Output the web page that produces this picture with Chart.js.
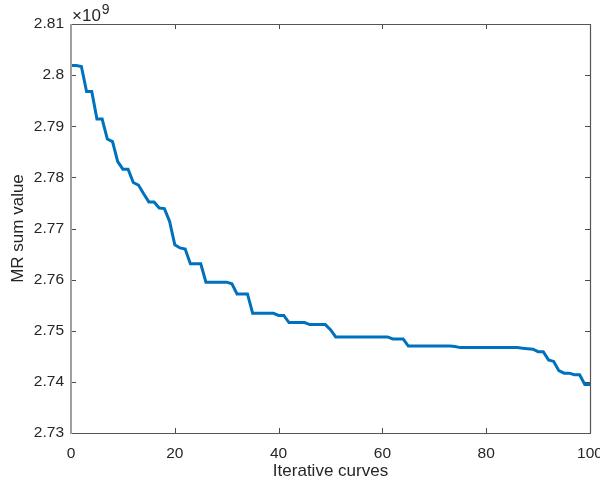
<!DOCTYPE html>
<html>
<head>
<meta charset="utf-8">
<script src="https://cdn.jsdelivr.net/npm/chart.js@4/dist/chart.umd.min.js"></script>
<style>
  html, body { margin: 0; padding: 0; background: #fff; }
  #wrap { width: 600px; height: 487px; }
</style>
</head>
<body>
<div id="wrap"><canvas id="mrChart"></canvas></div>
<script>
// iteration index and MR sum value (x 10^9)
const iterations = [];
for (let i = 0; i <= 100; i++) iterations.push(i);
const mrSum = [
    2.8019, 2.8019, 2.8017, 2.7968, 2.7968, 2.7914, 2.7914, 2.7875, 2.7870, 2.7831,
    2.7816, 2.7816, 2.7790, 2.7785, 2.7768, 2.7752, 2.7752, 2.7740, 2.7739, 2.7714,
    2.7668, 2.7662, 2.7660, 2.7631, 2.7631, 2.7631, 2.7595, 2.7595, 2.7595, 2.7595,
    2.7595, 2.7592, 2.7572, 2.7572, 2.7572, 2.7534, 2.7534, 2.7534, 2.7534, 2.7534,
    2.7530, 2.7530, 2.7516, 2.7516, 2.7516, 2.7516, 2.7512, 2.7512, 2.7512, 2.7512,
    2.7502, 2.7488, 2.7488, 2.7488, 2.7488, 2.7488, 2.7488, 2.7488, 2.7488, 2.7488,
    2.7488, 2.7488, 2.7484, 2.7484, 2.7484, 2.7470, 2.7470, 2.7470, 2.7470, 2.7470,
    2.7470, 2.7470, 2.7470, 2.7470, 2.7469, 2.7467, 2.7467, 2.7467, 2.7467, 2.7467,
    2.7467, 2.7467, 2.7467, 2.7467, 2.7467, 2.7467, 2.7467, 2.7466, 2.7465, 2.7464,
    2.7459, 2.7459, 2.7443, 2.7440, 2.7422, 2.7417, 2.7417, 2.7414, 2.7414, 2.7395,
    2.7395
];
const xTicks = [0, 20, 40, 60, 80, 100];
const yTicks = [2.73, 2.74, 2.75, 2.76, 2.77, 2.78, 2.79, 2.8, 2.81];
const exponentBase = '\u00d710';
const exponentPower = '9';

const textColor = '#262626';
const fontFamily = '"Liberation Sans", Arial, Helvetica, sans-serif';

/// Draws the MATLAB style box, inward ticks and the exponent label
const boxPlugin = {
    id: 'matlabBox',
    afterDraw(chart) {
        const ctx = chart.ctx;
        const a = chart.chartArea;
        const xs = chart.scales.x, ys = chart.scales.y;
        const len = 5;
        ctx.save();
        ctx.lineWidth = 1;
        ctx.strokeStyle = '#4a4a4a';
        ctx.beginPath();
        xTicks.forEach(v => {
            const px = Math.round(xs.getPixelForValue(v)) + 0.5;
            ctx.moveTo(px, a.bottom); ctx.lineTo(px, a.bottom - len);
            ctx.moveTo(px, a.top); ctx.lineTo(px, a.top + len);
        });
        yTicks.forEach(v => {
            const py = Math.round(ys.getPixelForValue(v)) + 0.5;
            ctx.moveTo(a.left, py); ctx.lineTo(a.left + len, py);
            ctx.moveTo(a.right, py); ctx.lineTo(a.right - len, py);
        });
        ctx.stroke();
        // frame
        ctx.strokeStyle = '#555555';
        ctx.lineWidth = 1.2;
        ctx.beginPath();
        ctx.moveTo(a.left, a.top + 0.5); ctx.lineTo(a.right + 0.5, a.top + 0.5);
        ctx.lineTo(a.right + 0.5, a.bottom + 0.5); ctx.lineTo(a.left, a.bottom + 0.5);
        ctx.stroke();
        ctx.strokeStyle = '#a0a0a0';
        ctx.lineWidth = 2;
        ctx.beginPath();
        ctx.moveTo(a.left, a.top); ctx.lineTo(a.left, a.bottom + 1);
        ctx.stroke();
        // x10^9
        ctx.fillStyle = textColor;
        ctx.textBaseline = 'alphabetic';
        ctx.textAlign = 'left';
        ctx.font = '17px ' + fontFamily;
        ctx.fillText(exponentBase, a.left + 1, a.top - 3);
        const w = ctx.measureText(exponentBase).width;
        ctx.font = '14px ' + fontFamily;
        ctx.fillText(exponentPower, a.left + 2 + w, a.top - 10);
        ctx.restore();
    }
};

const mrChart = new Chart('mrChart', {
    type: 'line',
    data: {
        datasets: [
            {
                label: 'MR sum value',
                borderColor: '#0072BD',
                backgroundColor: '#0072BD',
                borderWidth: 3,
                pointRadius: 0,
                tension: 0,
                data: iterations.map((x, i) => ({ x: x, y: mrSum[i] }))
            }
        ]
    },
    options: {
        responsive: true,
        maintainAspectRatio: false,
        animation: false,
        layout: { padding: { top: 24, right: 10, bottom: 0, left: 0 } },
        plugins: {
            legend: { display: false },
            tooltip: { enabled: false }
        },
        scales: {
            x: {
                type: 'linear',
                min: 0,
                max: 100,
                afterBuildTicks: (scale) => { scale.ticks = xTicks.map(v => ({ value: v })); },
                afterFit: (scale) => { scale.height = 54; scale.paddingRight = 0; scale.paddingLeft = 0; },
                grid: { display: false, drawTicks: false },
                border: { display: false },
                ticks: {
                    color: textColor,
                    padding: 11,
                    maxRotation: 0,
                    font: { family: fontFamily, size: 15.5 }
                },
                title: {
                    display: true,
                    text: 'Iterative curves',
                    color: textColor,
                    padding: { top: 0, bottom: 5 },
                    font: { family: fontFamily, size: 17 }
                }
            },
            y: {
                min: 2.73,
                max: 2.81,
                afterBuildTicks: (scale) => { scale.ticks = yTicks.map(v => ({ value: v })); },
                afterFit: (scale) => { scale.width = 71; scale.paddingTop = 0; scale.paddingBottom = 0; },
                grid: { display: false, drawTicks: false },
                border: { display: false },
                ticks: {
                    color: textColor,
                    padding: 7,
                    font: { family: fontFamily, size: 15.5 },
                    callback: (v) => String(Math.round(v * 100) / 100)
                },
                title: {
                    display: true,
                    text: 'MR sum value',
                    color: textColor,
                    padding: { top: 8, bottom: 0 },
                    font: { family: fontFamily, size: 17 }
                }
            }
        }
    },
    plugins: [boxPlugin]
});
</script>
</body>
</html>
